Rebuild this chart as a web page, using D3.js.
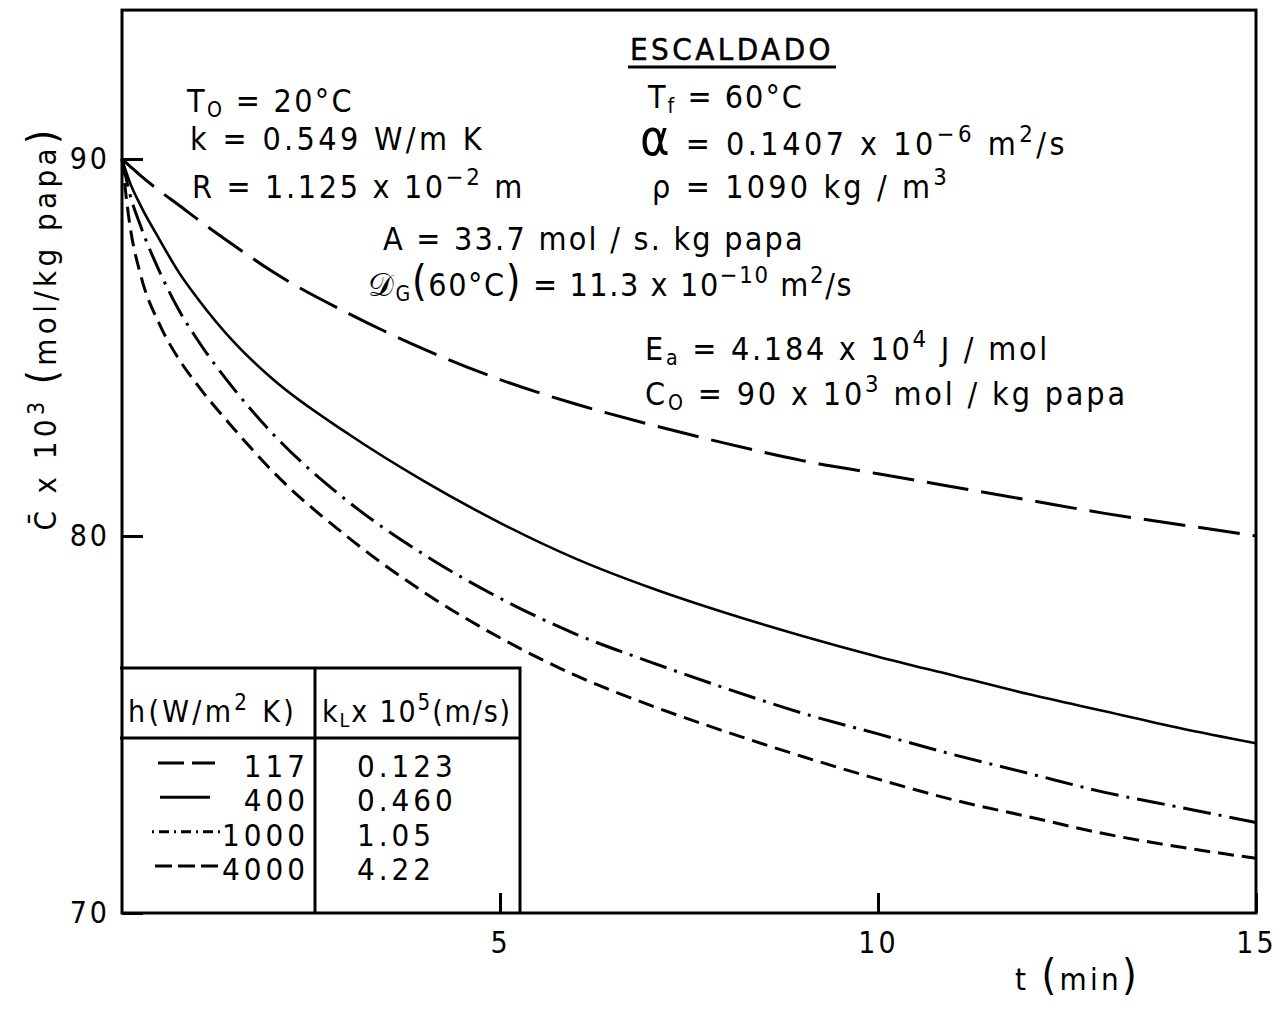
<!DOCTYPE html>
<html>
<head>
<meta charset="utf-8">
<script src="https://cdn.jsdelivr.net/npm/d3@7"></script>
<style>
  html, body { margin: 0; padding: 0; background: #fff; }
  svg { display: block; }
  text { font-family: "DejaVu Sans Condensed", "Liberation Sans Narrow", "DejaVu Sans", sans-serif; fill: #000; }
</style>
</head>
<body>
<svg id="chart" width="1284" height="1009"></svg>
<script>
// Blanching (escaldado) of potato: mean concentration vs time for four heat-transfer coefficients
const times  = [0, 0.1, 0.25, 0.5, 0.75, 1, 1.5, 2, 3, 4, 5, 6, 7, 8, 9, 10, 11, 12, 13, 14, 15];
const cH117  = [90, 89.82, 89.55, 89.15, 88.78, 88.4, 87.68, 87.0, 85.9, 84.95, 84.15, 83.5, 82.95, 82.45, 82.0, 81.65, 81.3, 80.95, 80.6, 80.3, 80.0];
const cH400  = [90, 89.4, 88.75, 87.85, 87.0, 86.3, 85.1, 84.15, 82.7, 81.45, 80.35, 79.4, 78.62, 77.95, 77.35, 76.8, 76.3, 75.8, 75.35, 74.9, 74.5];
const cH1000 = [90, 89.1, 88.2, 87.0, 86.0, 85.2, 83.85, 82.7, 80.9, 79.5, 78.35, 77.4, 76.65, 75.95, 75.3, 74.75, 74.2, 73.7, 73.2, 72.8, 72.4];
const cH4000 = [90, 88.3, 86.9, 85.6, 84.7, 84.0, 82.8, 81.7, 79.95, 78.5, 77.3, 76.3, 75.5, 74.8, 74.15, 73.55, 73.0, 72.55, 72.1, 71.75, 71.45];

const hLabels  = ["117", "400", "1000", "4000"];
const kLLabels = ["0.123", "0.460", "1.05", "4.22"];
const seriesValues = [cH117, cH400, cH1000, cH4000];
const curveDash  = ["42,13", null, "28,8,3,8", "16,8"];
const legendDash = ["26,8", null, "2,5,10,5", "17,6"];

const xTickValues = [5, 10, 15];
const yTickValues = [70, 80, 90];

const svg = d3.select("#chart");

const x = d3.scaleLinear().domain([0, 15]).range([122, 1256]);
const y = d3.scaleLinear().domain([70, 90]).range([913, 159]);
const yTop = 93.95;

// Stretch a text's letter spacing so it spans from x0 to x1
function fit(t, x0, x1) {
  const n = t.text().length;
  for (let k = 0; k < 3; k++) {
    const w = t.node().getBBox().width;
    const ls = parseFloat(t.attr("letter-spacing") || 0);
    t.attr("letter-spacing", ls + ((x1 - x0) - w) / n);
  }
  return t;
}

// Rich text: parts are [string, kind, fontSize] with kind 'sub' / 'sup' / null
function rich(parent, x0, y0, size, parts, attrs) {
  const t = parent.append("text").attr("x", x0).attr("y", y0).attr("font-size", size);
  if (attrs) Object.entries(attrs).forEach(([k, v]) => t.attr(k, v));
  let shift = 0;
  parts.forEach(p => {
    const s = p[0], kind = p[1], f = p[2];
    const target = kind === "sub" ? size * 0.16 : kind === "sup" ? -size * 0.4 : 0;
    const ts = t.append("tspan").attr("dy", target - shift).text(s);
    if (kind === "sub") ts.attr("font-size", size * 0.66);
    if (kind === "sup") ts.attr("font-size", size * 0.74);
    if (f) ts.attr("font-size", f);
    shift = target;
  });
  return t;
}

// Frame
svg.append("rect")
  .attr("x", x(0)).attr("y", y(yTop))
  .attr("width", x(15) - x(0)).attr("height", y(70) - y(yTop))
  .attr("fill", "none").attr("stroke", "#000").attr("stroke-width", 3);

// Axes with inward ticks
const yAxis = d3.axisLeft(y).tickValues(yTickValues).tickFormat(d3.format("d"))
  .tickSizeInner(-21).tickSizeOuter(0).tickPadding(12);
const gy = svg.append("g").attr("transform", `translate(${x(0)},0)`).call(yAxis);
gy.select(".domain").remove();
gy.selectAll(".tick line").attr("stroke", "#000").attr("stroke-width", 3);
gy.selectAll(".tick text").attr("font-size", 30).attr("fill", "#000").attr("letter-spacing", 3)
  .style("font-family", '"DejaVu Sans Condensed", sans-serif');

const xAxis = d3.axisBottom(x).tickValues(xTickValues).tickFormat(d3.format("d"))
  .tickSizeInner(-20).tickSizeOuter(0).tickPadding(19);
const gx = svg.append("g").attr("transform", `translate(0,${y(70)})`).call(xAxis);
gx.select(".domain").remove();
gx.selectAll(".tick line").attr("stroke", "#000").attr("stroke-width", 3);
gx.selectAll(".tick text").attr("font-size", 30).attr("fill", "#000").attr("letter-spacing", 3)
  .style("font-family", '"DejaVu Sans Condensed", sans-serif');

// Curves
const line = d3.line()
  .x((d, i) => x(times[i]))
  .y(d => y(d))
  .curve(d3.curveMonotoneX);

seriesValues.forEach((vals, i) => {
  svg.append("path")
    .attr("d", line(vals))
    .attr("fill", "none")
    .attr("stroke", "#000")
    .attr("stroke-width", i === 1 ? 2.6 : 3)
    .attr("stroke-dasharray", curveDash[i]);
});

// Title
const title = svg.append("text").attr("x", 630).attr("y", 60)
  .attr("font-size", 31).attr("stroke", "#000").attr("stroke-width", 0.5)
  .text("ESCALDADO");
fit(title, 630, 834);
svg.append("line").attr("x1", 628).attr("x2", 836).attr("y1", 67).attr("y2", 67)
  .attr("stroke", "#000").attr("stroke-width", 3);

// Parameter annotations
const fs = 32;
fit(rich(svg, 187, 112, fs, [["T"], ["O", "sub"], [" = 20°C"]]), 187, 355);
fit(rich(svg, 190, 150, fs, [["k  = 0.549 W/m K"]]), 190, 485);
fit(rich(svg, 192, 198, fs, [["R  = 1.125 x 10"], ["−2", "sup"], [" m"]]), 192, 525);

fit(rich(svg, 648, 108, fs, [["T"], ["f", "sub"], [" = 60°C"]]), 648, 805);
fit(rich(svg, 640, 155, fs, [["α", null, 50], [" = 0.1407  x  10", null, 32], ["−6", "sup"], [" m"], ["2", "sup"], ["/s"]]), 640, 1068);
fit(rich(svg, 652, 198, fs, [["ρ"], [" = 1090  kg / m"], ["3", "sup"]]), 652, 950);

fit(rich(svg, 383, 250, fs, [["A  = 33.7 mol / s. kg papa"]]), 383, 805);
fit(rich(svg, 368, 296, fs, [["𝒟"], ["G", "sub"], ["(", null, 42], ["60°C", null, 32], [")", null, 42], [" = 11.3  x 10", null, 32], ["−10", "sup"], [" m"], ["2", "sup"], ["/s"]]), 368, 853);

fit(rich(svg, 645, 360, fs, [["E"], ["a", "sub"], [" = 4.184 x 10"], ["4", "sup"], [" J / mol"]]), 645, 1050);
fit(rich(svg, 645, 405, fs, [["C"], ["O", "sub"], [" = 90  x 10"], ["3", "sup"], [" mol / kg   papa"]]), 645, 1128);

// Y axis title
const ylab = rich(svg, 0, 0, 31, [["C̄ x 10"], ["3", "sup"], [" "], ["(", null, 40], ["mol/kg papa", null, 31], [")", null, 40]],
  { "transform": "translate(56,328) rotate(-90)", "text-anchor": "middle" });
fit(ylab, 125, 530);

// X axis title
fit(rich(svg, 1015, 990, 31, [["t "], ["(", null, 42], ["min", null, 31], [")", null, 42]]), 1015, 1140);

// Legend table
const tbl = svg.append("g");
const tL = 120, tR = 520, tTop = 668, tHead = 738, tDiv = 315, tBot = 913;
tbl.append("path")
  .attr("d", `M${tL},${tTop}H${tR}V${tBot}M${tL},${tHead}H${tR}M${tDiv},${tTop}V${tBot}`)
  .attr("fill", "none").attr("stroke", "#000").attr("stroke-width", 3);

fit(rich(tbl, 128, 722, 30, [["h(W/m"], ["2", "sup"], [" K)"]]), 128, 297);
fit(rich(tbl, 322, 722, 30, [["k"], ["L", "sub"], ["x 10"], ["5", "sup"], ["(m/s)"]]), 322, 512);

const rowY = d3.scalePoint().domain(hLabels).range([763, 866]);
const sampleX = [[158, 215], [160, 210], [152, 222], [155, 222]];
hLabels.forEach((h, i) => {
  const yy = rowY(h);
  tbl.append("line")
    .attr("x1", sampleX[i][0]).attr("x2", sampleX[i][1])
    .attr("y1", yy).attr("y2", yy)
    .attr("stroke", "#000").attr("stroke-width", 3)
    .attr("stroke-dasharray", legendDash[i]);
  tbl.append("text").attr("x", 309).attr("y", yy + 14).attr("text-anchor", "end")
    .attr("font-size", 31).attr("letter-spacing", 4).text(h);
  tbl.append("text").attr("x", 357).attr("y", yy + 14)
    .attr("font-size", 31).attr("letter-spacing", 4).text(kLLabels[i]);
});
</script>
</body>
</html>
